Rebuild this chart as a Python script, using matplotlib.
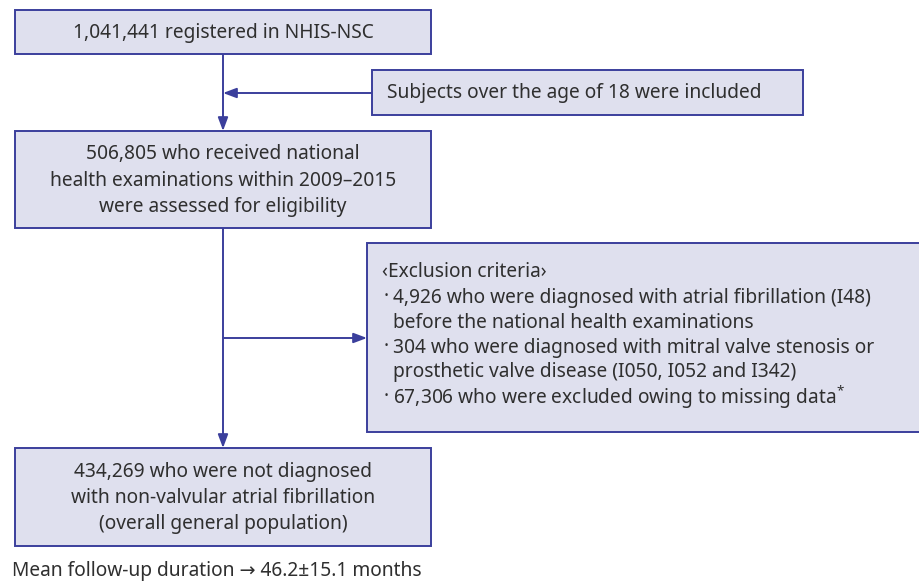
import matplotlib.pyplot as plt
from matplotlib.patches import Rectangle

plt.rcParams["font.family"] = ["Noto Sans", "DejaVu Sans"]
plt.rcParams["mathtext.default"] = "regular"

# flow counts and labels
registered = "1,041,441"
eligible = "506,805"
excluded = ["4,926", "304", "67,306"]
final = "434,269"
follow_up = "46.2\u00b115.1"

main_texts = [
    f"{registered} registered in NHIS-NSC",
    f"{eligible} who received national\nhealth examinations within 2009\u20132015\nwere assessed for eligibility",
    f"{final} who were not diagnosed\nwith non-valvular atrial fibrillation\n(overall general population)",
]
side_text = "Subjects over the age of 18 were included"
exclusion_title = "\u2039Exclusion criteria\u203a"
exclusion_items = [
    [f"{excluded[0]} who were diagnosed with atrial fibrillation (I48)",
     "before the national health examinations"],
    [f"{excluded[1]} who were diagnosed with mitral valve stenosis or",
     "prosthetic valve disease (I050, I052 and I342)"],
    [f"{excluded[2]} who were excluded owing to missing data$^{{*}}$"],
]
footer = f"Mean follow-up duration \u2192 {follow_up} months"

FILL = "#dfe0ee"
EDGE = "#3b3f9c"
TEXT = "#2f2f2f"
FS = 13.8

fig = plt.figure(figsize=(9.2, 5.84), dpi=100)
ax = fig.add_axes([0, 0, 1, 1])
ax.set_xlim(0, 920)
ax.set_ylim(584, 0)
ax.axis("off")


def box(x0, y0, x1, y1):
    ax.add_patch(Rectangle((x0, y0), x1 - x0, y1 - y0, facecolor=FILL,
                           edgecolor=EDGE, linewidth=1.4, zorder=2))


main_boxes = [(15, 10, 431, 54), (15, 131, 431, 228), (15, 448, 431, 546)]
for (x0, y0, x1, y1), t in zip(main_boxes, main_texts):
    box(x0, y0, x1, y1)
    ax.text((x0 + x1) / 2, (y0 + y1) / 2 + 1, t, ha="center", va="center",
            fontsize=FS, color=TEXT, linespacing=1.42, zorder=3)

# side box
box(372, 70, 803, 115)
ax.text(387, 93, side_text, ha="left", va="center", fontsize=FS, color=TEXT, zorder=3)

# exclusion box
box(367, 243, 930, 432)
ax.text(382, 272, exclusion_title, ha="left", va="center", fontsize=FS, color=TEXT, zorder=3)
y = 297.5
for item in exclusion_items:
    ax.text(384, y, "\u00b7", ha="left", va="center", fontsize=FS, color=TEXT,
            fontweight="bold", zorder=3)
    for line in item:
        ax.text(393, y, line, ha="left", va="center", fontsize=FS, color=TEXT, zorder=3)
        y += 25

# connectors
cx = 223
arrow = dict(arrowstyle="-|>,head_length=0.8,head_width=0.3", color=EDGE, lw=1.4,
             shrinkA=0, shrinkB=0)
ax.annotate("", xy=(cx, 131), xytext=(cx, 54), arrowprops=arrow, zorder=1)
ax.annotate("", xy=(cx, 93), xytext=(372, 93), arrowprops=arrow, zorder=1)
ax.annotate("", xy=(cx, 448), xytext=(cx, 228), arrowprops=arrow, zorder=1)
ax.annotate("", xy=(367, 338), xytext=(cx, 338), arrowprops=arrow, zorder=1)

ax.text(12, 571, footer, ha="left", va="center", fontsize=FS, color=TEXT)

fig.savefig("out.png", dpi=100)
